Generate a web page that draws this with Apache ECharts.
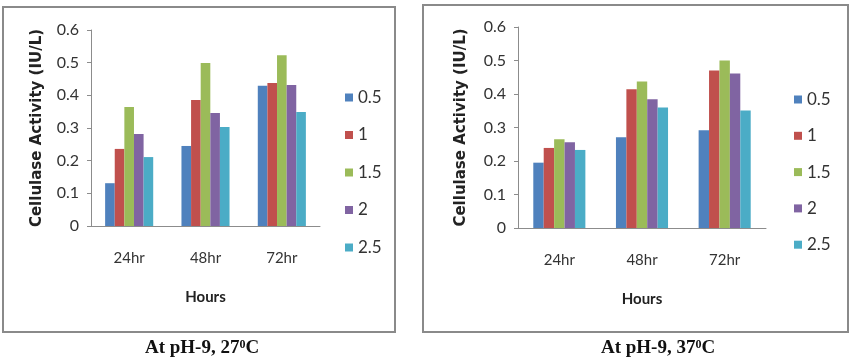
<!DOCTYPE html>
<html>
<head>
<meta charset="utf-8">
<script src="https://cdn.jsdelivr.net/npm/echarts@6/dist/echarts.min.js"></script>
<style>
    html, body { margin: 0; padding: 0; background: #fff; }
    #chartDiv { width: 857px; height: 358px; }
</style>
</head>
<body>
<div id="chartDiv"></div>
<script>
    // categories and legend names
    var hours = ['24hr', '48hr', '72hr'];
    var concNames = ['0.5', '1', '1.5', '2', '2.5'];

    // pH-9, 27 C  (one array per concentration, values at 24/48/72 hr)
    var c27_05 = [0.131, 0.245, 0.429];
    var c27_10 = [0.236, 0.386, 0.438];
    var c27_15 = [0.364, 0.499, 0.523];
    var c27_20 = [0.282, 0.346, 0.432];
    var c27_25 = [0.211, 0.303, 0.349];

    // pH-9, 37 C
    var c37_05 = [0.195, 0.271, 0.292];
    var c37_10 = [0.239, 0.414, 0.470];
    var c37_15 = [0.265, 0.437, 0.500];
    var c37_20 = [0.256, 0.384, 0.461];
    var c37_25 = [0.233, 0.360, 0.351];

    var data27 = [c27_05, c27_10, c27_15, c27_20, c27_25];
    var data37 = [c37_05, c37_10, c37_15, c37_20, c37_25];

    var colors = ['#4F81BD', '#C0504D', '#9BBB59', '#8064A2', '#4BACC6'];
    var fontTxt = 'Lato, "Open Sans", sans-serif';
    var axisGrey = '#8c8c8c';

    function xAxisFor(idx) {
        return {
            type: 'category', gridIndex: idx, data: hours,
            name: 'Hours', nameLocation: 'middle', nameGap: 64,
            nameTextStyle: { fontFamily: fontTxt, fontWeight: 'bold', fontSize: 15, color: '#222' },
            axisLine: { lineStyle: { color: axisGrey } },
            axisTick: { show: false },
            axisLabel: { margin: 25, fontFamily: fontTxt, fontSize: 15, color: '#333' }
        };
    }

    function yAxisFor(idx, gap) {
        return {
            type: 'value', gridIndex: idx, min: 0, max: 0.6, interval: 0.1,
            name: 'Cellulase Activity (IU/L)', nameLocation: 'middle', nameGap: gap,
            nameTextStyle: { fontFamily: '"DejaVu Sans", sans-serif', fontWeight: 'bold', fontSize: 15, color: '#222' },
            axisLine: { show: true, lineStyle: { color: axisGrey } },
            axisTick: { show: true, length: 4, lineStyle: { color: axisGrey } },
            splitLine: { show: false },
            axisLabel: { margin: 12, fontFamily: fontTxt, fontSize: 16, color: '#333' }
        };
    }

    function barsFor(idx, rows) {
        return rows.map(function (vals, i) {
            return {
                name: concNames[i], type: 'bar', xAxisIndex: idx, yAxisIndex: idx,
                data: vals, barGap: '0%', barCategoryGap: '37%',
                itemStyle: { color: colors[i] }
            };
        });
    }

    function legendFor(left, top, gap) {
        return {
            orient: 'vertical', left: left, top: top, padding: 0, data: concNames,
            icon: 'rect', itemWidth: 8, itemHeight: 8, itemGap: gap,
            textStyle: { fontFamily: fontTxt, fontSize: 17, color: '#333', lineHeight: 16 }
        };
    }

    function caption(text, cx) {
        return {
            text: '{a|' + text + '}{s|0}{a|C}', left: cx, top: 334, textAlign: 'center',
            textStyle: {
                rich: {
                    a: { fontFamily: '"Liberation Serif", serif', fontWeight: 'bold', fontSize: 19, color: '#111' },
                    s: { fontFamily: '"Liberation Serif", serif', fontWeight: 'bold', fontSize: 12, color: '#111', verticalAlign: 'top', padding: [0, 0, 7, 0] }
                }
            }
        };
    }

    var chart = echarts.init(document.getElementById('chartDiv'), null, { renderer: 'canvas' });
    chart.setOption({
        animation: false,
        color: colors,
        title: [caption('At pH-9, 27', 197), caption('At pH-9, 37', 653)],
        grid: [
            { left: 91, top: 30, width: 229, height: 196 },
            { left: 518, top: 27, width: 248, height: 201 }
        ],
        xAxis: [xAxisFor(0), xAxisFor(1)],
        yAxis: [yAxisFor(0, 46), yAxisFor(1, 49)],
        legend: [legendFor(345, 89, 20.5), legendFor(794, 91, 19.3)],
        series: barsFor(0, data27).concat(barsFor(1, data37)),
        graphic: [
            { type: 'rect', shape: { x: 3, y: 7, width: 392, height: 325 }, style: { fill: 'none', stroke: '#8a8a8a', lineWidth: 2 }, silent: true },
            { type: 'rect', shape: { x: 423, y: 5, width: 425, height: 327 }, style: { fill: 'none', stroke: '#8a8a8a', lineWidth: 2 }, silent: true }
        ]
    });
</script>
</body>
</html>
